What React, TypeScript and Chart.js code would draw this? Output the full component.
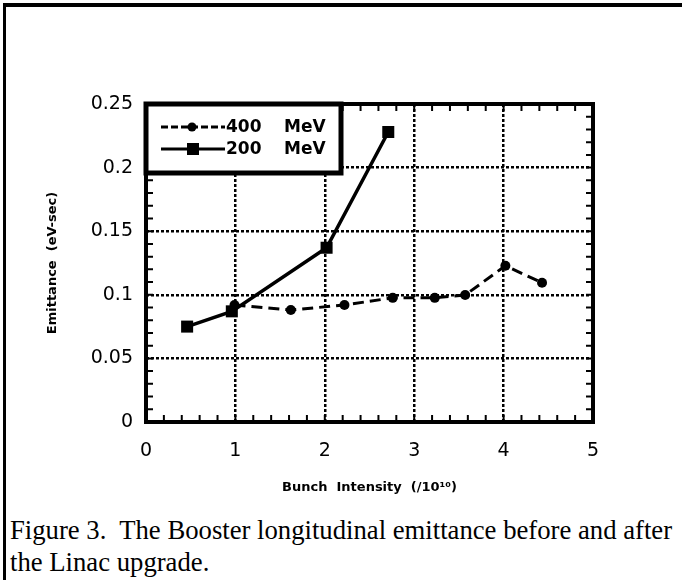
import React, { useEffect, useRef } from 'react';
import { Chart, registerables } from 'chart.js';

Chart.register(...registerables);

// ---- data ----
const intensity400 = [0.99, 1.62, 2.22, 2.76, 3.23, 3.57, 4.02, 4.43];
const emittance400 = [0.092, 0.088, 0.092, 0.0976, 0.0976, 0.0998, 0.1228, 0.1095];
const intensity200 = [0.46, 0.96, 2.02, 2.71];
const emittance200 = [0.075, 0.087, 0.137, 0.228];
const seriesLabels = ['400 MeV', '200 MeV'];
const xTickLabels = ['0', '1', '2', '3', '4', '5'];
const yTickLabels = ['0', '0.05', '0.1', '0.15', '0.2', '0.25'];
const xTitle = 'Bunch  Intensity  (/10¹⁰)';
const yTitle = 'Emittance  (eV-sec)';
const captionLines = [
  'Figure 3.  The Booster longitudinal emittance before and after',
  'the Linac upgrade.',
];

const toPoints = (xs: number[], ys: number[]) => xs.map((x, i) => ({ x, y: ys[i] }));

const SANS = '"DejaVu Sans", "Liberation Sans", sans-serif';

const framePlugin = {
  id: 'frameAndLegend',
  afterDraw(chart: any) {
    const { ctx, chartArea: a, scales } = chart;
    const xs = scales.x;
    const ys = scales.y;
    ctx.save();
    ctx.strokeStyle = '#000';
    ctx.fillStyle = '#000';
    ctx.setLineDash([]);
    // inward minor ticks
    ctx.lineWidth = 2;
    ctx.beginPath();
    for (let i = 0; i <= 25; i++) {
      const px = xs.getPixelForValue(i * 0.2);
      ctx.moveTo(px, a.bottom);
      ctx.lineTo(px, a.bottom - 7);
      ctx.moveTo(px, a.top);
      ctx.lineTo(px, a.top + 7);
    }
    for (let i = 0; i <= 25; i++) {
      const py = ys.getPixelForValue(i * 0.01);
      ctx.moveTo(a.left, py);
      ctx.lineTo(a.left + 7, py);
      ctx.moveTo(a.right, py);
      ctx.lineTo(a.right - 7, py);
    }
    ctx.stroke();
    // frame
    ctx.lineWidth = 4;
    ctx.strokeRect(a.left, a.top, a.right - a.left, a.bottom - a.top);

    // legend box
    const lx = a.left;
    const ly = a.top;
    const lw = 195;
    const lh = 69;
    ctx.fillStyle = '#fff';
    ctx.fillRect(lx, ly, lw, lh);
    ctx.lineWidth = 5;
    ctx.strokeRect(lx, ly, lw, lh);
    ctx.fillStyle = '#000';
    chart.data.datasets.forEach((ds: any, i: number) => {
      const y = ly + 23 + i * 22;
      ctx.lineWidth = 3;
      ctx.setLineDash(ds.borderDash && ds.borderDash.length ? [7, 3] : []);
      ctx.beginPath();
      ctx.moveTo(lx + 15, y);
      ctx.lineTo(lx + 79, y);
      ctx.stroke();
      ctx.setLineDash([]);
      if (ds.pointStyle === 'circle') {
        ctx.beginPath();
        ctx.arc(lx + 46, y, 4.5, 0, Math.PI * 2);
        ctx.fill();
      } else {
        ctx.fillRect(lx + 47 - 6, y - 6, 12, 12);
      }
      const parts = String(ds.label).split(' ');
      ctx.font = `bold 17px ${SANS}`;
      ctx.textBaseline = 'middle';
      ctx.textAlign = 'left';
      ctx.fillText(parts[0], lx + 80, y + 1);
      ctx.fillText(parts.slice(1).join(' '), lx + 138, y + 1);
    });
    ctx.restore();
  },
};

export default function App() {
  const ref = useRef<HTMLCanvasElement>(null);

  useEffect(() => {
    const canvas = ref.current;
    if (!canvas) return;
    const chart = new Chart(canvas, {
      type: 'line',
      data: {
        datasets: [
          {
            label: seriesLabels[0],
            data: toPoints(intensity400, emittance400),
            borderColor: '#000',
            backgroundColor: '#000',
            borderWidth: 3,
            borderDash: [11, 6],
            pointStyle: 'circle',
            pointRadius: 5,
            pointBorderWidth: 0,
            tension: 0,
          },
          {
            label: seriesLabels[1],
            data: toPoints(intensity200, emittance200),
            borderColor: '#000',
            backgroundColor: '#000',
            borderWidth: 3.5,
            pointStyle: 'rect',
            pointRadius: 8.5,
            pointBorderWidth: 0,
            tension: 0,
          },
        ],
      },
      options: {
        responsive: false,
        animation: false,
        layout: { padding: { left: 0, top: 104, right: 89, bottom: 0 } },
        plugins: {
          legend: { display: false },
          tooltip: { enabled: false },
        },
        scales: {
          x: {
            type: 'linear',
            min: 0,
            max: 5,
            afterFit: (s: any) => {
              s.height = 78;
            },
            ticks: {
              stepSize: 1,
              padding: 18,
              color: '#000',
              font: { family: SANS, size: 19 },
              callback: (_v: any, i: number) => xTickLabels[i],
            },
            grid: {
              color: '#000',
              lineWidth: 2.5,
              drawTicks: false,
            },
            border: { display: false, dash: [3, 2] },
            title: {
              display: true,
              text: xTitle,
              color: '#000',
              font: { family: SANS, size: 13, weight: 'bold' },
              padding: { top: 0, bottom: 5 },
            },
          },
          y: {
            type: 'linear',
            min: 0,
            max: 0.25,
            afterFit: (s: any) => {
              s.width = 146;
            },
            ticks: {
              stepSize: 0.05,
              padding: 13,
              color: '#000',
              font: { family: SANS, size: 19 },
              callback: (_v: any, i: number) => yTickLabels[i],
            },
            grid: {
              color: '#000',
              lineWidth: 2.5,
              drawTicks: false,
            },
            border: { display: false, dash: [3, 2] },
            title: {
              display: true,
              text: yTitle,
              color: '#000',
              font: { family: SANS, size: 13, weight: 'bold' },
              padding: { top: 45, bottom: 0 },
            },
          },
        },
      },
      plugins: [framePlugin],
    } as any);
    return () => chart.destroy();
  }, []);

  return (
    <div
      style={{
        position: 'absolute',
        left: 0,
        top: 0,
        width: 682,
        height: 580,
        background: '#fff',
        overflow: 'hidden',
      }}
    >
      <canvas
        ref={ref}
        width={682}
        height={500}
        style={{ position: 'absolute', left: 0, top: 0, width: 682, height: 500 }}
      />
      <div style={{ position: 'absolute', left: 3, top: 3, width: 679, height: 4, background: '#000' }} />
      <div style={{ position: 'absolute', left: 3, top: 3, width: 3, height: 577, background: '#000' }} />
      <div
        style={{
          position: 'absolute',
          left: 10,
          top: 514,
          fontFamily: '"Liberation Serif", "Times New Roman", serif',
          fontSize: 26.7,
          lineHeight: '32px',
          whiteSpace: 'pre',
          color: '#000',
        }}
      >
        {captionLines.map((l) => (
          <div key={l}>{l}</div>
        ))}
      </div>
    </div>
  );
}
